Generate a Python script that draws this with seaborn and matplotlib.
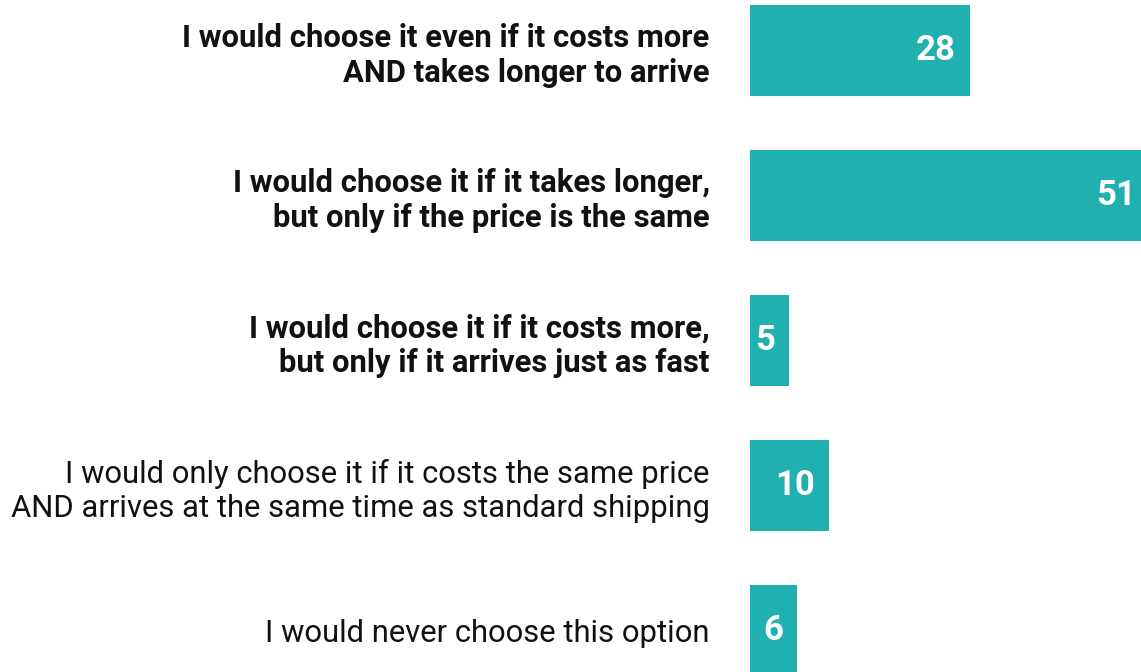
import matplotlib
matplotlib.use("Agg")
import matplotlib.pyplot as plt
import seaborn as sns
import pandas as pd

categories = [
    "I would choose it even if it costs more\nAND takes longer to arrive",
    "I would choose it if it takes longer,\nbut only if the price is the same",
    "I would choose it if it costs more,\nbut only if it arrives just as fast",
    "I would only choose it if it costs the same price\nAND arrives at the same time as standard shipping",
    "I would never choose this option",
]
values = [28, 51, 5, 10, 6]
bold_label = [True, True, True, False, False]

BAR_COLOR = "#1FB0AF"

sns.set_theme(style="white")
plt.rcParams["font.family"] = ["Roboto", "DejaVu Sans"]

df = pd.DataFrame({"answer": categories, "share": values})

W, H = 1141, 672
fig = plt.figure(figsize=(W / 100, H / 100), dpi=100)
ax = fig.add_axes([750 / W, 0, 1 - 750 / W, 1])

sns.barplot(data=df, y="answer", x="share", orient="h", color=BAR_COLOR,
            width=0.625, saturation=1, linewidth=0, ax=ax)

# the longest bar runs past the right edge of the figure
px_per_unit = 7.85
ax.set_xlim(0, (W - 750) / px_per_unit)
ax.set_ylim(4.286, -0.348)

for spine in ax.spines.values():
    spine.set_visible(False)
ax.set_xticks([])
ax.set_xlabel("")
ax.set_ylabel("")
ax.tick_params(axis="y", length=0, pad=29)

for lbl, bold in zip(ax.get_yticklabels(), bold_label):
    lbl.set_fontsize(22.3)
    lbl.set_fontweight("bold" if bold else "normal")
    lbl.set_color("#111111")
    lbl.set_linespacing(1.2)

for i, v in enumerate(values):
    ax.annotate(str(v), xy=(v, i), xytext=(-14, 0), textcoords="offset pixels",
                ha="right", va="center", color="white", fontsize=25,
                fontweight="bold", annotation_clip=False)

fig.savefig("out.png", dpi=100, facecolor="white")
